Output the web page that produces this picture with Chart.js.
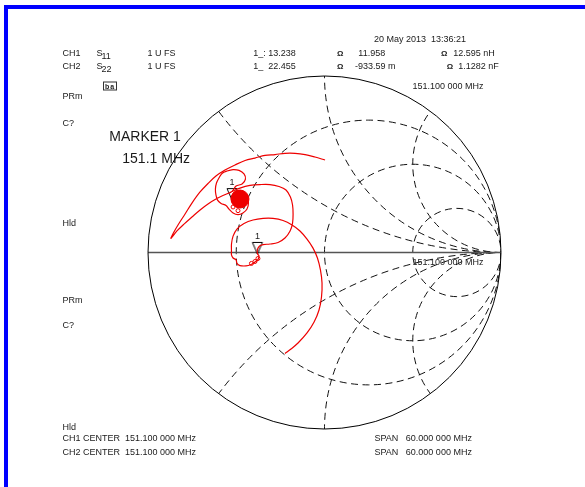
<!DOCTYPE html>
<html>
<head>
<meta charset="utf-8">
<script src="https://cdn.jsdelivr.net/npm/chart.js@4.4.1/dist/chart.umd.min.js"></script>
<style>
html,body{margin:0;padding:0;background:#fff;}
#wrap{position:relative;width:585px;height:487px;overflow:hidden;background:#fff;}
#c{position:absolute;left:0;top:0;}
.t{position:absolute;font-family:"Liberation Sans",Arial,sans-serif;font-size:9px;color:#1a1a1a;white-space:pre;line-height:1;transform:translateY(-50%);}
.big{font-size:14px;}
.om{font-weight:bold;font-size:8px;}
.icon{font-weight:bold;font-size:7px;border:1px solid #333;padding:0 1px;letter-spacing:1px;}
.blueTop{position:absolute;left:4px;top:5px;width:581px;height:4px;background:#0000ff;}
.blueLeft{position:absolute;left:4px;top:5px;width:4px;height:482px;background:#0000ff;}
</style>
</head>
<body>
<div id="wrap">
<canvas id="c" width="585" height="487"></canvas>
<div class="blueTop"></div>
<div class="blueLeft"></div>
</div>
<script>
// ---------------- data (reflection coefficient, real / imaginary) ----------------
const gridResistance = [1/3, 1, 3];
const gridReactance = [0.5, 1, 2];

// S11 trace: outer arc, return arc, wandering cluster round the marker
const s11Trace = [
  [0.003,0.524],[-0.054,0.541],[-0.110,0.555],[-0.167,0.562],[-0.224,0.562],[-0.280,0.555],
  [-0.337,0.550],[-0.394,0.535],[-0.450,0.521],[-0.507,0.496],[-0.564,0.467],[-0.615,0.433],
  [-0.660,0.391],[-0.705,0.343],[-0.751,0.280],[-0.790,0.218],[-0.830,0.156],[-0.853,0.116],
  [-0.870,0.080],
  [-0.836,0.122],[-0.796,0.161],[-0.751,0.201],[-0.705,0.241],[-0.660,0.275],[-0.615,0.303],
  [-0.569,0.326],[-0.524,0.346],
  [-0.501,0.377],[-0.467,0.388],[-0.448,0.416],[-0.456,0.445],[-0.484,0.465],[-0.518,0.470],
  [-0.552,0.462],[-0.581,0.448],[-0.598,0.422],[-0.612,0.394],[-0.618,0.360],[-0.615,0.326],
  [-0.606,0.297],[-0.586,0.278],[-0.558,0.266],[-0.541,0.246],[-0.518,0.224],[-0.490,0.215],
  [-0.462,0.224],[-0.439,0.246],[-0.431,0.280],[-0.439,0.317],[-0.459,0.343],[-0.487,0.351],
  [-0.513,0.340],[-0.527,0.312],[-0.521,0.280],[-0.499,0.261],[-0.473,0.261],[-0.453,0.280]
];

// S22 trace: large loop, small loop under the axis, long lower arc
const s22Trace = [
  [-0.524,0.346],[-0.479,0.365],[-0.422,0.380],[-0.365,0.385],[-0.309,0.385],[-0.258,0.374],
  [-0.218,0.354],[-0.193,0.314],[-0.181,0.269],[-0.178,0.218],[-0.181,0.167],[-0.195,0.122],
  [-0.224,0.082],[-0.263,0.057],[-0.309,0.048],[-0.348,0.045],[-0.368,0.037],[-0.380,0.017],
  [-0.380,-0.006],
  [-0.371,-0.020],[-0.377,-0.040],[-0.394,-0.054],[-0.416,-0.068],[-0.445,-0.076],[-0.479,-0.074],
  [-0.496,-0.062],[-0.501,-0.042],[-0.518,-0.031],[-0.527,-0.014],[-0.527,0.008],
  [-0.527,0.048],[-0.518,0.093],[-0.496,0.133],[-0.456,0.164],[-0.405,0.184],[-0.348,0.193],
  [-0.292,0.193],[-0.235,0.181],[-0.184,0.156],[-0.139,0.122],[-0.099,0.076],[-0.065,0.025],
  [-0.040,-0.031],[-0.023,-0.099],[-0.014,-0.173],[-0.017,-0.252],[-0.031,-0.326],[-0.059,-0.394],
  [-0.099,-0.456],[-0.150,-0.513],[-0.190,-0.547],[-0.224,-0.572]
];

// densely wound part of S11 next to marker 1
const s11Knot = [[-0.479,0.303]];
// small curls
const curls = [[-0.414,-0.062],[-0.394,-0.051],[-0.377,-0.034],[-0.518,0.258],[-0.490,0.237]];

// marker 1 positions on S11 and S22
const markerPoints = [[-0.524,0.297],[-0.380,-0.008]];
const markerLabels = ['1','1'];

// ---------------- text ----------------
const texts = [
  ['20 May 2013  13:36:21',374,39,''],
  ['CH1',62.5,52.7,''],['S',96.5,52.7,''],['11',101.5,55.5,''],['1 U FS',147.5,52.7,''],
  ['1_: 13.238',253.3,52.7,''],['Ω',337,54,'om'],['11.958',358.3,52.7,''],
  ['Ω',441,54,'om'],['12.595 nH',453.3,52.7,''],
  ['CH2',62.5,65.7,''],['S',96.5,65.7,''],['22',101.5,68.5,''],['1 U FS',147.5,65.7,''],
  ['1_  22.455',253.3,65.7,''],['Ω',337,67,'om'],['-933.59 m',355,65.7,''],
  ['Ω',446.7,67,'om'],['1.1282 nF',458.3,65.7,''],
  ['ba',103,86,'icon'],
  ['151.100 000 MHz',412.5,86,''],
  ['PRm',62.5,96,''],['C?',62.5,122.5,''],
  ['MARKER 1',109.3,136,'big'],['151.1 MHz',122.3,157.5,'big'],
  ['Hld',62.5,222.5,''],
  ['151.100 000 MHz',412.5,261.5,''],
  ['PRm',62.5,300,''],['C?',62.5,325,''],
  ['Hld',62.5,427,''],
  ['CH1 CENTER  151.100 000 MHz',62.5,438,''],['SPAN   60.000 000 MHz',374.5,438,''],
  ['CH2 CENTER  151.100 000 MHz',62.5,452,''],['SPAN   60.000 000 MHz',374.5,452,'']
];
const wrap = document.getElementById('wrap');
texts.forEach(([s,x,y,cls])=>{
  const d=document.createElement('div');
  d.className='t '+cls; d.textContent=s;
  d.style.left=x+'px'; d.style.top=y+'px';
  wrap.appendChild(d);
});

// ---------------- chart ----------------
const RED = 'rgb(238,0,0)';
const pts = a => a.map(([x,y])=>({x,y}));

function markerGlyph(){
  const c=document.createElement('canvas'); c.width=14; c.height=48;
  const g=c.getContext('2d');
  g.strokeStyle='#000'; g.lineWidth=1;
  g.beginPath(); g.moveTo(2,12.5); g.lineTo(12,12.5); g.lineTo(7,24); g.closePath(); g.stroke();
  return c;
}

const smithGrid = {
  id:'smithGrid',
  beforeDatasetsDraw(chart){
    const ctx=chart.ctx, xs=chart.scales.x, ys=chart.scales.y;
    const px=v=>xs.getPixelForValue(v), py=v=>ys.getPixelForValue(v);
    const R=px(1)-px(0);
    ctx.save();
    ctx.beginPath(); ctx.arc(px(0),py(0),R,0,Math.PI*2); ctx.clip();
    ctx.setLineDash([7,4.5]); ctx.strokeStyle='#111'; ctx.lineWidth=1;
    gridResistance.forEach(r=>{
      const c=r/(1+r), rad=1/(1+r);
      ctx.beginPath(); ctx.arc(px(c),py(0),rad*R,0,Math.PI*2); ctx.stroke();
    });
    gridReactance.forEach(x=>{
      [1,-1].forEach(s=>{
        ctx.beginPath(); ctx.arc(px(1),py(s/x),R/x,0,Math.PI*2); ctx.stroke();
      });
    });
    ctx.restore();
    ctx.save();
    ctx.strokeStyle='#555'; ctx.lineWidth=1.4;
    ctx.beginPath(); ctx.moveTo(px(-1),py(0)); ctx.lineTo(px(1),py(0)); ctx.stroke();
    ctx.strokeStyle='#000'; ctx.lineWidth=1;
    ctx.beginPath(); ctx.arc(px(0),py(0),R,0,Math.PI*2); ctx.stroke();
    ctx.restore();
  },
  afterDatasetsDraw(chart){
    const ctx=chart.ctx, xs=chart.scales.x, ys=chart.scales.y;
    ctx.save();
    ctx.fillStyle='#1a1a1a'; ctx.font='9px "Liberation Sans", Arial, sans-serif';
    ctx.textAlign='center'; ctx.textBaseline='middle';
    markerPoints.forEach(([x,y],i)=>{
      ctx.fillText(markerLabels[i], xs.getPixelForValue(x), ys.getPixelForValue(y)-17.5);
    });
    ctx.restore();
  }
};

new Chart(document.getElementById('c'),{
  type:'scatter',
  data:{datasets:[
    {label:'S11',data:pts(s11Trace),showLine:true,borderColor:RED,borderWidth:1.2,pointRadius:0,tension:0.35,fill:false},
    {label:'S22',data:pts(s22Trace),showLine:true,borderColor:RED,borderWidth:1.2,pointRadius:0,tension:0.35,fill:false},
    {label:'knot',data:pts(s11Knot),showLine:false,pointRadius:9,pointBackgroundColor:RED,pointBorderColor:RED,pointBorderWidth:1},
    {label:'curls',data:pts(curls),showLine:false,pointRadius:2,pointBackgroundColor:'rgba(0,0,0,0)',pointBorderColor:RED,pointBorderWidth:1},
    {label:'markers',data:pts(markerPoints),showLine:false,pointRadius:3,pointStyle:markerGlyph()}
  ]},
  options:{
    responsive:false, animation:false, devicePixelRatio:1,
    layout:{padding:{left:148,right:84,top:76,bottom:58}},
    scales:{
      x:{type:'linear',min:-1,max:1,display:false},
      y:{type:'linear',min:-1,max:1,display:false}
    },
    plugins:{legend:{display:false},tooltip:{enabled:false}},
    elements:{line:{capBezierPoints:true}}
  },
  plugins:[smithGrid]
});
</script>
</body>
</html>
